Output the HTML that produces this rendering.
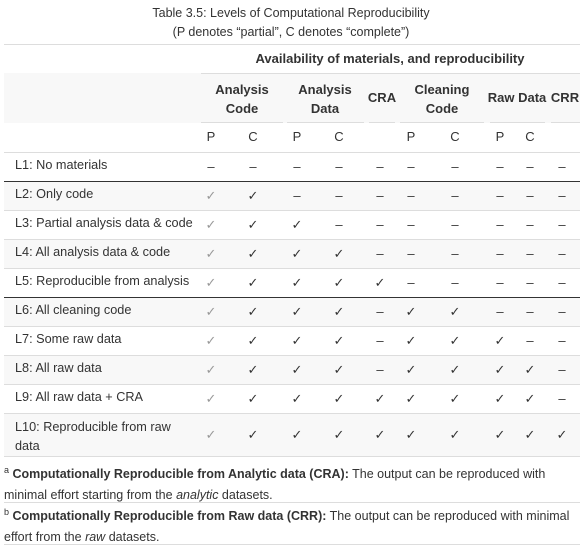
<!DOCTYPE html>
<html><head><meta charset="utf-8">
<style>
body{margin:0;width:582px;height:550px;background:#fff;font-family:"Liberation Sans",Arial,sans-serif;color:#333;position:relative;overflow:hidden}
.a{position:absolute;white-space:nowrap}
.c{transform:translateX(-50%)}
.t{font-size:12.5px;text-align:center;left:0;width:582px}
.h{font-weight:bold;font-size:13px}
.line{position:absolute;left:4px;width:576px;height:1px;background:#ddd}
.dark{background:#333}
.ul{position:absolute;height:1px;background:#ddd;top:122px}
.lab{font-size:12.7px;left:15px}
.cell{font-size:13px}
.fn{font-size:12.5px;left:4px;width:574px;line-height:21px;white-space:normal}
</style></head><body>
<div class="a t" style="top:6px">Table 3.5: Levels of Computational Reproducibility</div>
<div class="a t" style="top:25px">(P denotes “partial”, C denotes “complete”)</div>
<div class="line" style="top:44px"></div>
<div class="a h c" style="left:390px;top:51px">Availability of materials, and reproducibility</div>
<div style="position:absolute;left:4px;top:73px;width:576px;height:50px;background:#f8f8f8"></div>
<div class="ul" style="left:201px;width:379px;top:73px"></div>
<div class="a h c" style="left:242px;top:80px;text-align:center;line-height:19px">Analysis<br>Code</div>
<div class="a h c" style="left:325px;top:80px;text-align:center;line-height:19px">Analysis<br>Data</div>
<div class="a h c" style="left:382px;top:90px">CRA</div>
<div class="a h c" style="left:442px;top:80px;text-align:center;line-height:19px">Cleaning<br>Code</div>
<div class="a h c" style="left:517px;top:90px">Raw Data</div>
<div class="a h c" style="left:565px;top:90px">CRR</div>
<div class="ul" style="left:201px;width:82px"></div>
<div class="ul" style="left:287px;width:77px"></div>
<div class="ul" style="left:369px;width:26px"></div>
<div class="ul" style="left:400px;width:84px"></div>
<div class="ul" style="left:490px;width:55px"></div>
<div class="ul" style="left:551px;width:29px"></div>
<div id="grid"></div>
<div class="a fn" style="top:460px"><sup style="font-size:9px">a</sup> <b>Computationally Reproducible from Analytic data (CRA):</b> The output can be reproduced with minimal effort starting from the <i>analytic</i> datasets.</div>
<div class="line" style="top:502px"></div>
<div class="a fn" style="top:502px"><sup style="font-size:9px">b</sup> <b>Computationally Reproducible from Raw data (CRR):</b> The output can be reproduced with minimal effort from the <i>raw</i> datasets.</div>
<div class="line" style="top:544px"></div>
<script>
const colHeads=["P","C","P","C","","P","C","P","C",""];
const rowLabels=["L1: No materials","L2: Only code","L3: Partial analysis data & code","L4: All analysis data & code","L5: Reproducible from analysis","L6: All cleaning code","L7: Some raw data","L8: All raw data","L9: All raw data + CRA","L10: Reproducible from raw data"];
const rowValues=[
[0,0,0,0,0,0,0,0,0,0],
[1,1,0,0,0,0,0,0,0,0],
[1,1,1,0,0,0,0,0,0,0],
[1,1,1,1,0,0,0,0,0,0],
[1,1,1,1,1,0,0,0,0,0],
[1,1,1,1,0,1,1,0,0,0],
[1,1,1,1,0,1,1,1,0,0],
[1,1,1,1,0,1,1,1,1,0],
[1,1,1,1,1,1,1,1,1,0],
[1,1,1,1,1,1,1,1,1,1]];
const colX=[211,253,297,339,380,411,455,500,530,562];
const g=document.getElementById('grid');
function add(html,cls,x,y,name){const d=document.createElement('div');d.className='a '+cls;d.style.left=x+'px';d.style.top=y+'px';d.innerHTML=html;


g.appendChild(d);return d;}
colHeads.forEach((h,i)=>{if(h){const d=add(h,'h c',colX[i],129,'col-header-'+i);d.style.fontWeight='normal';}});
function line(y,dark){const d=document.createElement('div');d.className='line'+(dark?' dark':'');d.style.top=y+'px';


g.appendChild(d);}
line(152,false);
let y=152;
rowLabels.forEach((lab,r)=>{
  const h=r===9?43:29;
  if(r%2===1){const b=document.createElement('div');b.style.cssText='position:absolute;left:4px;width:576px;top:'+(y+1)+'px;height:'+(h-1)+'px;background:#f8f8f8';
  
  
  g.appendChild(b);}
  if(r===9){const d=add(lab,'lab',15,y+5,'row-label-'+(r+1));d.style.whiteSpace='normal';d.style.width='160px';d.style.lineHeight='19px';}
  else add(lab,'lab',15,y+6,'row-label-'+(r+1));
  const cy=y+h/2-8;
  rowValues[r].forEach((v,i)=>{
    let html='–',st='';
    if(v){html='✓';st=i===0?'color:#999;font-weight:normal':'color:#333;font-weight:normal';}
    const d=add(html,'cell c',colX[i],cy,'cell-r'+(r+1)+'-c'+i);d.style.cssText+=st;
  });
  y+=h;
  if(r<9)line(y,r===0||r===4);
});
line(456,false);
</script>
</body></html>
